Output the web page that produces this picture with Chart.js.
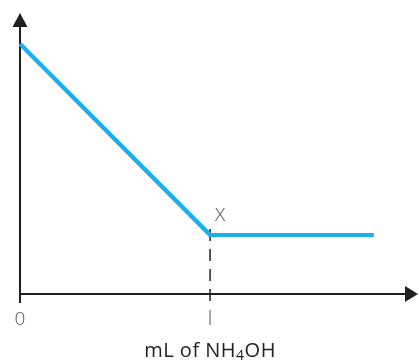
<!DOCTYPE html>
<html>
<head>
<meta charset="utf-8">
<script src="https://cdn.jsdelivr.net/npm/chart.js@4/dist/chart.umd.min.js"></script>
<style>
  html, body { margin: 0; padding: 0; background: #fff; }
  canvas { display: block; }
</style>
</head>
<body>
<canvas id="myChart" width="419" height="360"></canvas>
<script>
// data (arbitrary units)
const volumes = [0, 5, 9.3];
const values = [8.9, 2.1, 2.1];
const xLabel = "mL of NH";
const xLabelSub = "4";
const xLabelEnd = "OH";
const pointLabel = "X";
const originLabel = "0";

// axes, arrows, dashed marker and labels
const axesPlugin = {
  id: "axesPlugin",
  afterDraw(chart) {
    const ctx = chart.ctx;
    const area = chart.chartArea;
    const xs = chart.scales.x;
    const ys = chart.scales.y;
    const x0 = xs.getPixelForValue(0);
    const y0 = ys.getPixelForValue(0);
    const xEq = xs.getPixelForValue(volumes[1]);
    const yEq = ys.getPixelForValue(values[1]);

    ctx.save();
    ctx.strokeStyle = "#231f20";
    ctx.fillStyle = "#231f20";
    ctx.lineWidth = 2;

    // y axis
    ctx.beginPath();
    ctx.moveTo(x0, area.top + 12);
    ctx.lineTo(x0, y0 + 9);
    ctx.stroke();
    // x axis
    ctx.beginPath();
    ctx.moveTo(x0, y0);
    ctx.lineTo(area.right - 10, y0);
    ctx.stroke();

    // arrow heads
    ctx.beginPath();
    ctx.moveTo(x0, area.top);
    ctx.lineTo(x0 - 7.5, area.top + 14);
    ctx.lineTo(x0 + 7.5, area.top + 14);
    ctx.closePath();
    ctx.fill();
    ctx.beginPath();
    ctx.moveTo(area.right, y0);
    ctx.lineTo(area.right - 13, y0 - 8);
    ctx.lineTo(area.right - 13, y0 + 8);
    ctx.closePath();
    ctx.fill();

    // dashed drop line from the break point
    ctx.lineWidth = 1.5;
    ctx.setLineDash([12, 8]);
    ctx.beginPath();
    ctx.moveTo(xEq, yEq - 6);
    ctx.lineTo(xEq, y0 + 8);
    ctx.stroke();
    ctx.setLineDash([]);
    ctx.strokeStyle = "#8a8a8a";
    ctx.beginPath();
    ctx.moveTo(xEq, y0 + 16);
    ctx.lineTo(xEq, y0 + 31);
    ctx.stroke();
    ctx.restore();

    // redraw the blue line over the top of the dash
    chart.getDatasetMeta(0).dataset.draw(ctx, area);

    ctx.save();
    // labels
    ctx.fillStyle = "#555";
    ctx.font = "300 19px 'Open Sans'";
    ctx.textAlign = "center";
    ctx.textBaseline = "middle";
    ctx.fillText(pointLabel, xEq + 10, yEq - 19);
    ctx.font = "300 19px 'Open Sans'";
    ctx.fillText(originLabel, x0, y0 + 26);

    ctx.fillStyle = "#222";
    ctx.letterSpacing = "0.5px";
    ctx.textBaseline = "alphabetic";
    ctx.textAlign = "left";
    ctx.font = "20px 'Open Sans'";
    const w1 = ctx.measureText(xLabel).width;
    const w3 = ctx.measureText(xLabelEnd).width;
    ctx.font = "14px 'Open Sans'";
    const w2 = ctx.measureText(xLabelSub).width;
    const total = w1 + w2 + w3;
    let tx = xEq - total / 2;
    const base = y0 + 63;
    ctx.font = "20px 'Open Sans'";
    ctx.fillText(xLabel, tx, base);
    tx += w1;
    ctx.font = "14px 'Open Sans'";
    ctx.fillText(xLabelSub, tx, base + 3);
    tx += w2;
    ctx.font = "20px 'Open Sans'";
    ctx.fillText(xLabelEnd, tx, base);
    ctx.restore();
  }
};

const ctx = document.getElementById("myChart").getContext("2d");
const myChart = new Chart(ctx, {
  type: "line",
  data: {
    datasets: [
      {
        data: volumes.map((v, i) => ({ x: v, y: values[i] })),
        borderColor: "#1ab0ea",
        borderWidth: 4,
        pointRadius: 0,
        fill: false,
        tension: 0,
        borderJoinStyle: "miter",
        borderCapStyle: "butt",
      },
    ],
  },
  options: {
    responsive: false,
    animation: false,
    devicePixelRatio: 1,
    layout: { padding: { left: 20, top: 13, right: 1, bottom: 66 } },
    plugins: { legend: { display: false }, tooltip: { enabled: false } },
    scales: {
      x: { type: "linear", min: 0, max: 10.47, display: false },
      y: { min: 0, max: 10, display: false },
    },
  },
  plugins: [axesPlugin],
});
</script>
</body>
</html>
